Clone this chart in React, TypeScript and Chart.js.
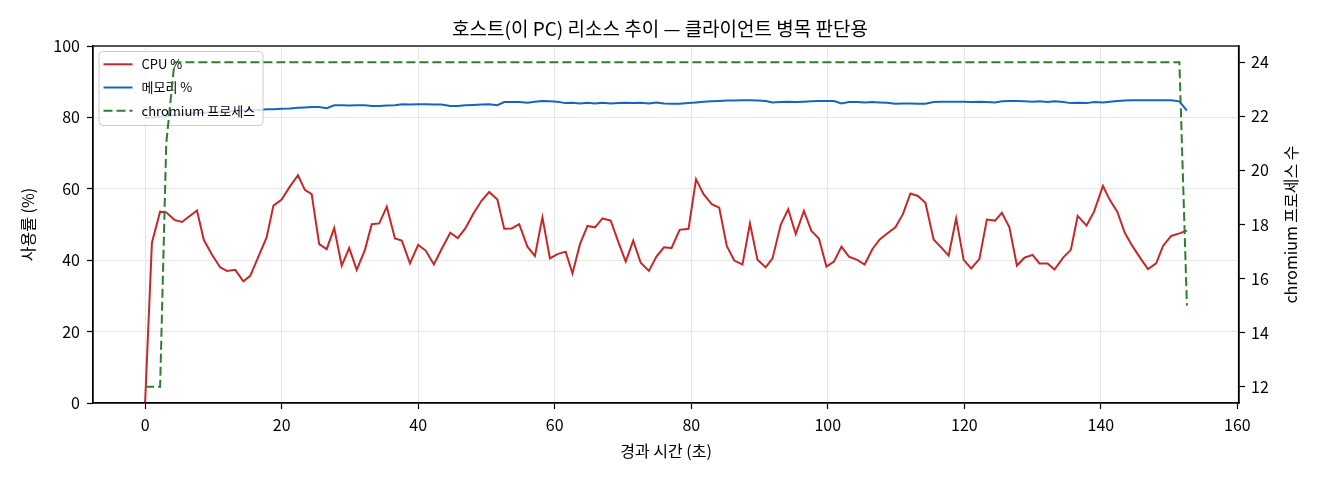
import React, { useEffect, useRef } from 'react';
import { Chart, registerables } from 'chart.js';

Chart.register(...registerables);

const FONT = "'Noto Sans CJK KR', 'Noto Sans', sans-serif";

const chartTitle = '호스트(이 PC) 리소스 추이 — 클라이언트 병목 판단용';
const xTitle = '경과 시간 (초)';
const yTitle = '사용률 (%)';
const y2Title = 'chromium 프로세스 수';
const seriesLabels = ['CPU %', '메모리 %', 'chromium 프로세스'];

const times = [
  0, 1.0, 2.2, 3.1, 4.3, 5.4, 6.5, 7.6, 8.6, 9.8,
  11.0, 12.0, 13.2, 14.4, 15.4, 16.6, 17.8, 18.8, 20.0, 21.2,
  22.4, 23.4, 24.4, 25.5, 26.6, 27.7, 28.8, 29.9, 31.0, 32.2,
  33.2, 34.3, 35.4, 36.6, 37.6, 38.8, 40.0, 41.1, 42.3, 43.4,
  44.7, 45.8, 46.9, 48.1, 49.3, 50.4, 51.6, 52.6, 53.7, 54.8,
  56.0, 57.1, 58.2, 59.3, 60.4, 61.6, 62.6, 63.7, 64.8, 65.9,
  67.0, 68.2, 69.3, 70.4, 71.5, 72.6, 73.8, 74.9, 76.0, 77.1,
  78.3, 79.6, 80.7, 81.8, 83.0, 84.1, 85.2, 86.3, 87.5, 88.6,
  89.7, 90.9, 91.9, 93.1, 94.2, 95.3, 96.5, 97.6, 98.7, 99.8,
  100.9, 102.0, 103.1, 104.3, 105.4, 106.5, 107.6, 108.7, 109.9, 111.0,
  112.1, 113.2, 114.3, 115.5, 116.6, 117.7, 118.8, 119.9, 121.0, 122.2,
  123.3, 124.5, 125.5, 126.6, 127.7, 128.8, 130.0, 131.0, 132.2, 133.2,
  134.5, 135.6, 136.6, 137.9, 139.0, 140.3, 141.3, 142.4, 143.5, 144.6,
  145.8, 146.9, 148.1, 149.1, 150.3, 151.5, 152.6,
];

const cpuPct = [
  0, 44.9, 53.6, 53.4, 51.3, 50.7, 52.3, 53.9, 45.7, 41.5,
  38.0, 37.0, 37.3, 34.1, 35.6, 41.0, 46.4, 55.3, 57.0, 60.6,
  63.8, 59.7, 58.5, 44.5, 43.1, 49.0, 38.5, 43.4, 37.3, 42.9,
  50.1, 50.3, 55.0, 46.1, 45.5, 39.1, 44.3, 42.7, 38.8, 43.0,
  47.7, 46.2, 48.9, 53.1, 56.7, 59.1, 57.0, 48.8, 48.9, 50.1,
  43.8, 41.2, 52.0, 40.5, 41.7, 42.4, 36.3, 44.5, 49.6, 49.2,
  51.7, 51.1, 45.2, 39.6, 45.5, 39.3, 37.0, 41.0, 43.6, 43.4,
  48.5, 48.8, 62.7, 58.5, 55.7, 54.7, 44.0, 39.9, 38.8, 50.3,
  40.1, 38.0, 40.5, 49.9, 54.3, 47.3, 53.8, 48.2, 46.1, 38.2,
  39.6, 43.8, 41.0, 40.1, 38.8, 43.0, 45.8, 47.5, 49.2, 52.9,
  58.7, 58.0, 56.1, 45.8, 43.6, 41.3, 51.7, 40.1, 37.7, 40.3,
  51.4, 51.1, 53.3, 49.2, 38.5, 40.7, 41.5, 39.1, 39.1, 37.4,
  40.8, 42.9, 52.4, 49.7, 53.6, 60.8, 56.9, 53.6, 47.7, 44.0,
  40.5, 37.5, 39.1, 44.0, 46.8, 47.5, 48.3,
];

const memPct = [
  79.8, 80.0, 80.2, 80.4, 80.6, 80.8, 81.0, 81.2, 81.3, 81.5,
  81.6, 81.7, 81.8, 81.9, 82.0, 82.1, 82.3, 82.3, 82.4, 82.5,
  82.7, 82.8, 82.9, 82.9, 82.6, 83.4, 83.4, 83.3, 83.4, 83.4,
  83.2, 83.2, 83.3, 83.4, 83.7, 83.6, 83.7, 83.7, 83.6, 83.6,
  83.2, 83.2, 83.4, 83.5, 83.6, 83.7, 83.4, 84.3, 84.3, 84.3,
  84.1, 84.4, 84.6, 84.5, 84.4, 84.0, 84.1, 83.9, 84.1, 83.9,
  84.1, 83.9, 84.0, 84.1, 84.0, 84.1, 83.9, 84.2, 83.9, 83.8,
  83.8, 84.0, 84.2, 84.4, 84.5, 84.6, 84.7, 84.7, 84.8, 84.8,
  84.7, 84.6, 84.2, 84.3, 84.4, 84.3, 84.4, 84.5, 84.6, 84.6,
  84.6, 83.9, 84.3, 84.3, 84.2, 84.3, 84.2, 84.1, 83.8, 83.9,
  83.9, 83.8, 83.8, 84.3, 84.4, 84.4, 84.4, 84.4, 84.3, 84.4,
  84.3, 84.2, 84.5, 84.6, 84.6, 84.5, 84.4, 84.5, 84.3, 84.5,
  84.3, 84.0, 84.1, 84.0, 84.3, 84.2, 84.4, 84.6, 84.7, 84.8,
  84.8, 84.8, 84.8, 84.8, 84.8, 84.5, 81.9,
];

const procTimes = [0, 2.2, 3.1, 4.3, 151.5, 152.6];
const procCounts = [12, 12, 21, 24, 24, 15];

const xTicks = [0, 20, 40, 60, 80, 100, 120, 140, 160];
const yTicks = [0, 20, 40, 60, 80, 100];
const y2Ticks = [12, 14, 16, 18, 20, 22, 24];

const X_MIN = -7.63;
const X_MAX = 160.23;
const Y2_MIN = 11.4;
const Y2_MAX = 24.6;

function drawLegend(chart: any) {
  const { ctx, chartArea: a } = chart;
  ctx.save();
  const x0 = a.left + 6;
  const y0 = a.top + 5.5;
  const w = 164;
  const h = 74;
  const r = 4;
  ctx.beginPath();
  ctx.moveTo(x0 + r, y0);
  ctx.lineTo(x0 + w - r, y0);
  ctx.arcTo(x0 + w, y0, x0 + w, y0 + r, r);
  ctx.lineTo(x0 + w, y0 + h - r);
  ctx.arcTo(x0 + w, y0 + h, x0 + w - r, y0 + h, r);
  ctx.lineTo(x0 + r, y0 + h);
  ctx.arcTo(x0, y0 + h, x0, y0 + h - r, r);
  ctx.lineTo(x0, y0 + r);
  ctx.arcTo(x0, y0, x0 + r, y0, r);
  ctx.closePath();
  ctx.fillStyle = 'rgba(255,255,255,0.8)';
  ctx.fill();
  ctx.strokeStyle = '#cccccc';
  ctx.lineWidth = 1;
  ctx.stroke();

  const ds = chart.data.datasets;
  ctx.font = `13px ${FONT}`;
  ctx.textBaseline = 'middle';
  ctx.textAlign = 'left';
  for (let i = 0; i < ds.length; i++) {
    const yy = y0 + 12.8 + i * 23.2;
    ctx.beginPath();
    ctx.setLineDash(ds[i].borderDash || []);
    ctx.strokeStyle = ds[i].borderColor;
    ctx.lineWidth = ds[i].borderWidth;
    ctx.moveTo(x0 + 4.5, yy);
    ctx.lineTo(x0 + 33.5, yy);
    ctx.stroke();
    ctx.setLineDash([]);
    ctx.fillStyle = '#000';
    ctx.fillText(ds[i].label, x0 + 42.5, yy);
  }
  ctx.restore();
}

const overlayPlugin = {
  id: 'overlay',
  beforeDatasetDraw(chart: any, args: any) {
    // primary-axis legend sits below the secondary-axis series (as in the source)
    if (args.index === 2) drawLegend(chart);
  },
  afterDatasetsDraw(chart: any) {
    const { ctx, chartArea: a } = chart;
    ctx.save();
    ctx.strokeStyle = '#000';
    ctx.lineWidth = 1.3;
    ctx.strokeRect(a.left, a.top, a.right - a.left, a.bottom - a.top);

    ctx.font = `16px ${FONT}`;
    ctx.fillStyle = '#000';
    ctx.textAlign = 'center';
    ctx.textBaseline = 'middle';
    ctx.translate(a.right + 52, (a.top + a.bottom) / 2);
    ctx.rotate(-Math.PI / 2);
    ctx.fillText(y2Title, 0, 0);
    ctx.restore();
  },
};

export default function App() {
  const canvasRef = useRef<HTMLCanvasElement | null>(null);

  useEffect(() => {
    const canvas = canvasRef.current;
    if (!canvas) return;
    Chart.defaults.font.family = FONT;
    Chart.defaults.color = '#000';

    const chart = new Chart(canvas, {
      type: 'line',
      data: {
        datasets: [
          {
            label: seriesLabels[0],
            data: times.map((t, i) => ({ x: t, y: cpuPct[i] })),
            borderColor: '#c62828',
            backgroundColor: '#c62828',
            borderWidth: 2,
            pointRadius: 0,
            tension: 0,
            yAxisID: 'y',
            order: 1,
          },
          {
            label: seriesLabels[1],
            data: times.map((t, i) => ({ x: t, y: memPct[i] })),
            borderColor: '#1565c0',
            backgroundColor: '#1565c0',
            borderWidth: 2,
            pointRadius: 0,
            tension: 0,
            yAxisID: 'y',
            order: 2,
          },
          {
            label: seriesLabels[2],
            data: procTimes.map((t, i) => ({ x: t, y: procCounts[i] })),
            borderColor: '#2e7d32',
            backgroundColor: '#2e7d32',
            borderWidth: 2,
            borderDash: [9, 4],
            pointRadius: 0,
            tension: 0,
            yAxisID: 'y2',
            order: 0,
          },
        ],
      },
      options: {
        responsive: false,
        animation: false,
        devicePixelRatio: 1,
        layout: { padding: 0 },
        plugins: {
          legend: { display: false },
          tooltip: { enabled: false },
          title: {
            display: true,
            text: chartTitle,
            color: '#000',
            font: { size: 19, weight: 'normal', family: FONT },
            padding: { top: 17, bottom: 6.2 },
          },
        },
        scales: {
          x: {
            type: 'linear',
            min: X_MIN,
            max: X_MAX,
            afterBuildTicks: (s: any) => {
              s.ticks = xTicks.map((v) => ({ value: v }));
            },
            afterFit: (s: any) => {
              s.height = 77;
            },
            ticks: { font: { size: 16 }, padding: 6, color: '#000', maxRotation: 0 },
            grid: {
              color: '#e6e6e6',
              lineWidth: 1,
              drawTicks: true,
              tickLength: 6,
              tickColor: '#000',
              tickWidth: 1.2,
            },
            border: { display: true, color: '#000', width: 1.3 },
            title: {
              display: true,
              text: xTitle,
              color: '#000',
              font: { size: 16 },
              padding: { top: 0, bottom: 19.5 },
            },
          },
          y: {
            type: 'linear',
            position: 'left',
            min: 0,
            max: 100,
            afterBuildTicks: (s: any) => {
              s.ticks = yTicks.map((v) => ({ value: v }));
            },
            afterFit: (s: any) => {
              s.width = 93;
            },
            ticks: { font: { size: 16 }, padding: 7, color: '#000' },
            grid: {
              color: '#e6e6e6',
              lineWidth: 1,
              drawTicks: true,
              tickLength: 6,
              tickColor: '#000',
              tickWidth: 1.2,
            },
            border: { display: true, color: '#000', width: 1.3 },
            title: {
              display: true,
              text: yTitle,
              color: '#000',
              font: { size: 16 },
              padding: { top: 18, bottom: 0 },
            },
          },
          y2: {
            type: 'linear',
            position: 'right',
            min: Y2_MIN,
            max: Y2_MAX,
            afterBuildTicks: (s: any) => {
              s.ticks = y2Ticks.map((v) => ({ value: v }));
            },
            afterFit: (s: any) => {
              s.width = 81;
            },
            ticks: { font: { size: 16 }, padding: 6, color: '#000' },
            grid: {
              drawOnChartArea: false,
              drawTicks: true,
              tickLength: 6,
              tickColor: '#000',
              tickWidth: 1.2,
            },
            border: { display: true, color: '#000', width: 1.3 },
          },
        },
      },
      plugins: [overlayPlugin],
    } as any);

    return () => {
      chart.destroy();
    };
  }, []);

  return (
    <div style={{ position: 'fixed', left: 0, top: 0, width: 1320, height: 480, background: '#fff' }}>
      <canvas ref={canvasRef} width={1320} height={480} style={{ display: 'block', width: 1320, height: 480 }} />
    </div>
  );
}
